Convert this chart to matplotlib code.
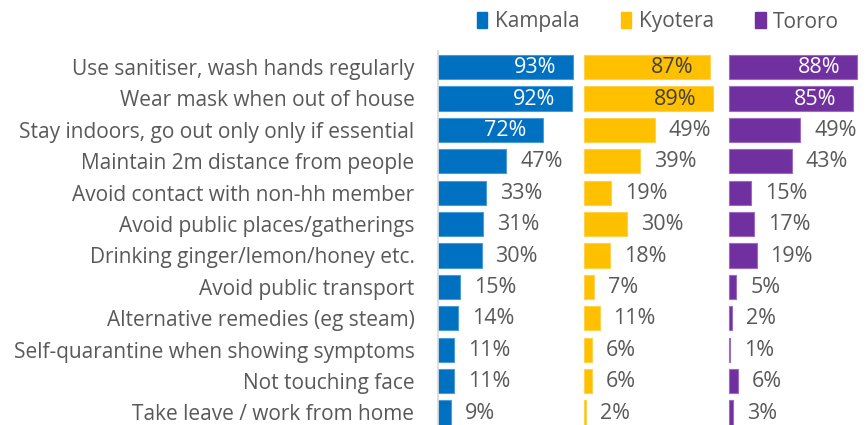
import matplotlib
matplotlib.use("Agg")
import matplotlib.pyplot as plt
from matplotlib.patches import Patch

categories = [
    "Use sanitiser, wash hands regularly",
    "Wear mask when out of house",
    "Stay indoors, go out only only if essential",
    "Maintain 2m distance from people",
    "Avoid contact with non-hh member",
    "Avoid public places/gatherings",
    "Drinking ginger/lemon/honey etc.",
    "Avoid public transport",
    "Alternative remedies (eg steam)",
    "Self-quarantine when showing symptoms",
    "Not touching face",
    "Take leave / work from home",
]
series_names = ["Kampala", "Kyotera", "Tororo"]
kampala = [93, 92, 72, 47, 33, 31, 30, 15, 14, 11, 11, 9]
kyotera = [87, 89, 49, 39, 19, 30, 18, 7, 11, 6, 6, 2]
tororo = [88, 85, 49, 43, 15, 17, 19, 5, 2, 1, 6, 3]
series_values = [kampala, kyotera, tororo]

colors = ["#0070C0", "#FFC000", "#7030A0"]
edge_colors = ["#4A9BD8", "#FFD24D", "#9B6CC4"]
inside_text = ["white", "#404040", "white"]
outside_text = "#595959"
label_color = "#595959"
font = ["Open Sans", "DejaVu Sans"]
plt.rcParams["font.family"] = font
FS_CAT = 15.0
FS_VAL = 15.5
FS_LEG = 15.0

W, H = 867, 425
fig = plt.figure(figsize=(W / 100, H / 100), dpi=100)
ax = fig.add_axes([438 / W, 0, 1 - 438 / W, 1 - 51 / H])

px_per_unit = 1.455
ax.set_xlim(0, (W - 438) / px_per_unit)
y = list(range(len(categories)))
ax.set_ylim(11.4, -0.51)

for i, (vals, c, ec) in enumerate(zip(series_values, colors, edge_colors)):
    offset = 100 * i
    ax.barh(y, vals, left=offset, height=0.77, color=c, edgecolor=ec, linewidth=0.8)
    for yi, v in zip(y, vals):
        if v > 60:
            ax.annotate(f"{v}%", (offset + v, yi), xytext=(-12, -0.5), textcoords="offset points",
                        ha="right", va="center", fontsize=FS_VAL, color=inside_text[i])
        else:
            ax.annotate(f"{v}%", (offset + v, yi), xytext=(10, -0.5), textcoords="offset points",
                        ha="left", va="center", fontsize=FS_VAL, color=outside_text)

ax.set_yticks(y)
ax.set_yticklabels(categories, fontsize=FS_CAT, color=label_color)
ax.tick_params(axis="y", length=0, pad=17)
ax.set_xticks([])
for s in ["top", "right", "bottom"]:
    ax.spines[s].set_visible(False)
ax.spines["left"].set_color("#D9D9D9")
ax.spines["left"].set_linewidth(1.2)

handles = [Patch(facecolor=c, edgecolor=c) for c in colors]
fig.legend(handles, series_names, loc="center", bbox_to_anchor=(658 / W, 1 - 22 / H),
           ncol=3, frameon=False, fontsize=FS_LEG, handlelength=0.5, handleheight=0.8,
           handletextpad=0.35, columnspacing=2.0, labelcolor="#595959")

fig.savefig("out.png", dpi=100)
